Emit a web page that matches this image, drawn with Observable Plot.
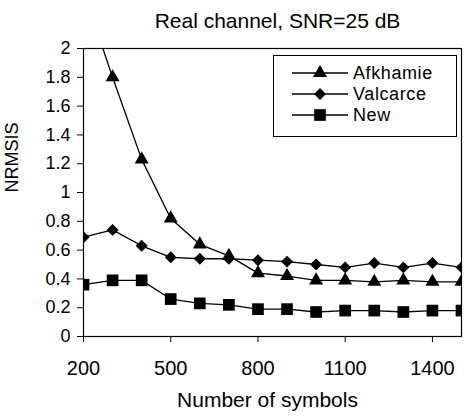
<!DOCTYPE html>
<html><head><meta charset="utf-8">
<script src="https://cdn.jsdelivr.net/npm/d3@7"></script>
<script src="https://cdn.jsdelivr.net/npm/@observablehq/plot@0.6"></script>
<style>
body{margin:0;background:#fff;}
#wrap{position:relative;width:466px;height:417px;font-family:Arial,"Liberation Sans",sans-serif;}
#legend{position:absolute;left:273px;top:55px;}
</style></head><body><div id="wrap"></div>
<script>
const title = "Real channel, SNR=25 dB";
const xLabel = "Number of symbols";
const yLabel = "NRMSIS";
const numSymbols = [200,300,400,500,600,700,800,900,1000,1100,1200,1300,1400,1500];
const afkhamie = [2.4,1.8,1.23,0.82,0.64,0.56,0.44,0.42,0.39,0.39,0.38,0.39,0.38,0.38];
const valcarce = [0.69,0.74,0.63,0.55,0.54,0.54,0.53,0.52,0.50,0.48,0.51,0.48,0.51,0.48];
const newMethod = [0.36,0.39,0.39,0.26,0.23,0.22,0.19,0.19,0.17,0.18,0.18,0.17,0.18,0.18];
const seriesNames = ["Afkhamie","Valcarce","New"];
const xTicks = [200,500,800,1100,1400];
const xTickLabels = ["200","500","800","1100","1400"];
const yTicks = [0,0.2,0.4,0.6,0.8,1,1.2,1.4,1.6,1.8,2];
const yTickLabels = ["0","0.2","0.4","0.6","0.8","1","1.2","1.4","1.6","1.8","2"];

const seriesValues = [afkhamie, valcarce, newMethod];
const symbolTypes = [d3.symbolTriangle, d3.symbolDiamond2, d3.symbolSquare];
const symbolR = [5.2, 5.4, 6.6];
const rows = [];
seriesNames.forEach((s, i) => numSymbols.forEach((x, j) => rows.push({series: s, x, y: seriesValues[i][j]})));

const dotMarks = seriesNames.map((s, i) => Plot.dot(rows.filter(d => d.series === s), {
  x: "x", y: "y", symbol: () => symbolTypes[i], r: symbolR[i], fill: "black", stroke: "none", clip: true
}));

const chart = Plot.plot({
  width: 466, height: 417,
  marginLeft: 83, marginRight: 5, marginTop: 48, marginBottom: 81,
  style: {fontFamily: "Arial, 'Liberation Sans', sans-serif", background: "white", color: "black"},
  x: {domain: [200, 1500]},
  y: {domain: [0, 2]},
  symbol: {type: "identity"},
  marks: [
    Plot.line(rows, {x: "x", y: "y", z: "series", stroke: "black", strokeWidth: 1.3, clip: true}),
    ...dotMarks,
    Plot.frame({stroke: "black", strokeWidth: 1.2}),
    Plot.axisX({ticks: xTicks, tickSize: 6, tickPadding: 18, fontSize: 20, label: null,
      tickFormat: d => xTickLabels[xTicks.indexOf(d)]}),
    Plot.axisY({ticks: yTicks, tickSize: 6, tickPadding: 7, fontSize: 18, label: null,
      tickFormat: d => yTickLabels[yTicks.indexOf(d)]}),
    Plot.text([title], {text: d => d, frameAnchor: "top", lineAnchor: "middle", dy: -27, dx: 5, fontSize: 21}),
    Plot.text([xLabel], {text: d => d, frameAnchor: "bottom", lineAnchor: "middle", dy: 64, dx: -5, fontSize: 21}),
    Plot.text([yLabel], {text: d => d, frameAnchor: "left", lineAnchor: "middle", dx: -71, rotate: -90, fontSize: 18})
  ]
});
const wrap = document.getElementById("wrap");
wrap.appendChild(chart);

// legend
const lw = 184, lh = 82;
const leg = d3.select(wrap).append("svg").attr("id", "legend").attr("width", lw).attr("height", lh)
  .style("font-family", "Arial, 'Liberation Sans', sans-serif");
leg.append("rect").attr("x", 0.5).attr("y", 0.5).attr("width", lw - 1).attr("height", lh - 1)
  .attr("fill", "white").attr("stroke", "black");
seriesNames.forEach((s, i) => {
  const cy = 18 + i * 21;
  leg.append("line").attr("x1", 19).attr("x2", 75).attr("y1", cy).attr("y2", cy)
    .attr("stroke", "black").attr("stroke-width", 1.3);
  leg.append("path").attr("transform", `translate(47,${cy})`)
    .attr("d", d3.symbol(symbolTypes[i], Math.PI * symbolR[i] * symbolR[i])())
    .attr("fill", "black");
  leg.append("text").attr("x", 80).attr("y", cy).attr("dy", "0.35em")
    .attr("font-size", 18).attr("letter-spacing", "0.6px").text(s);
});
</script>
</body></html>
